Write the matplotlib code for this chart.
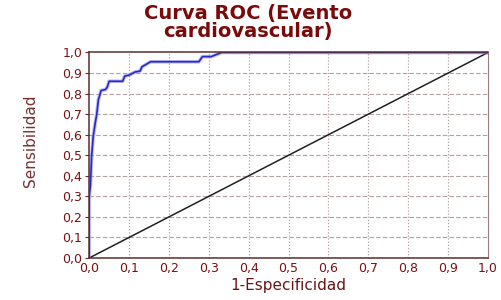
import numpy as np
import matplotlib
matplotlib.use("Agg")
import matplotlib.pyplot as plt
from matplotlib import font_manager
from matplotlib.ticker import FuncFormatter

# ROC curve (1-especificidad, sensibilidad)
fpr = [0.0, 0.0, 0.003, 0.006, 0.010, 0.015, 0.019, 0.023, 0.030, 0.041, 0.045,
       0.050, 0.084, 0.089, 0.100, 0.115, 0.128, 0.132, 0.154, 0.275, 0.284,
       0.306, 0.332, 1.0]
tpr = [0.0, 0.30, 0.35, 0.49, 0.59, 0.655, 0.70, 0.77, 0.815, 0.82, 0.83,
       0.86, 0.86, 0.885, 0.89, 0.905, 0.91, 0.93, 0.955, 0.955, 0.98,
       0.98, 1.0, 1.0]
diag = [0.0, 1.0]
ticks = np.round(np.arange(0, 1.01, 0.1), 1)

maroon = "#7a1010"
frame = "#5a2e2e"

# narrow font for the y label if there is one
names = set(f.name for f in font_manager.fontManager.ttflist)
narrow = "Liberation Sans Narrow" if "Liberation Sans Narrow" in names else "DejaVu Sans"
ysize = 13 if narrow != "DejaVu Sans" else 11

fig = plt.figure(figsize=(5.01, 3.0), dpi=100)
ax = fig.add_axes([0.178, 0.14, 0.796, 0.685])

# grid: dashed horizontal, dotted vertical
for t in ticks[1:-1]:
    ax.axhline(t, color="#b3a0a0", lw=0.8, ls=(0, (4, 2)), zorder=0)
    ax.axvline(t, color="#b3a0a0", lw=0.9, ls=(0, (1, 1.5)), zorder=0)

ax.plot(diag, diag, color="#202020", lw=1.1, zorder=2)
ax.plot(fpr, tpr, color="#8c8cf0", lw=2.6, alpha=0.6, zorder=3)
ax.plot(fpr, tpr, color="#2a2ac0", lw=1.2, zorder=4)

ax.set_xlim(0, 1)
ax.set_ylim(0, 1)
ax.set_xticks(ticks)
ax.set_yticks(ticks)
fmt = FuncFormatter(lambda v, p: ("%.1f" % v).replace(".", ","))
ax.xaxis.set_major_formatter(fmt)
ax.yaxis.set_major_formatter(fmt)
ax.tick_params(axis="both", direction="out", length=3, width=0.8,
               colors=frame, labelcolor=maroon, labelsize=9, pad=2)
ax.tick_params(axis="x", length=0, pad=3)

for side in ["left", "bottom", "top"]:
    ax.spines[side].set_color(frame)
    ax.spines[side].set_linewidth(1.1)
ax.spines["right"].set_color("#9a7a7a")
for sp in ax.spines.values():
    sp.set_zorder(6)

ax.set_xlabel("1-Especificidad", color="#6a1515", fontsize=11, labelpad=2)
ax.set_ylabel("Sensibilidad", color="#7a3030", fontsize=ysize, family=narrow)
ax.yaxis.set_label_coords(-0.128, 0.57)

fig.text(0.495, 0.985, "Curva ROC (Evento\ncardiovascular)", ha="center",
         va="top", fontsize=14, fontweight="bold", color="#7a0a0a",
         linespacing=0.92)

fig.savefig("out.png", dpi=100, facecolor="white")
